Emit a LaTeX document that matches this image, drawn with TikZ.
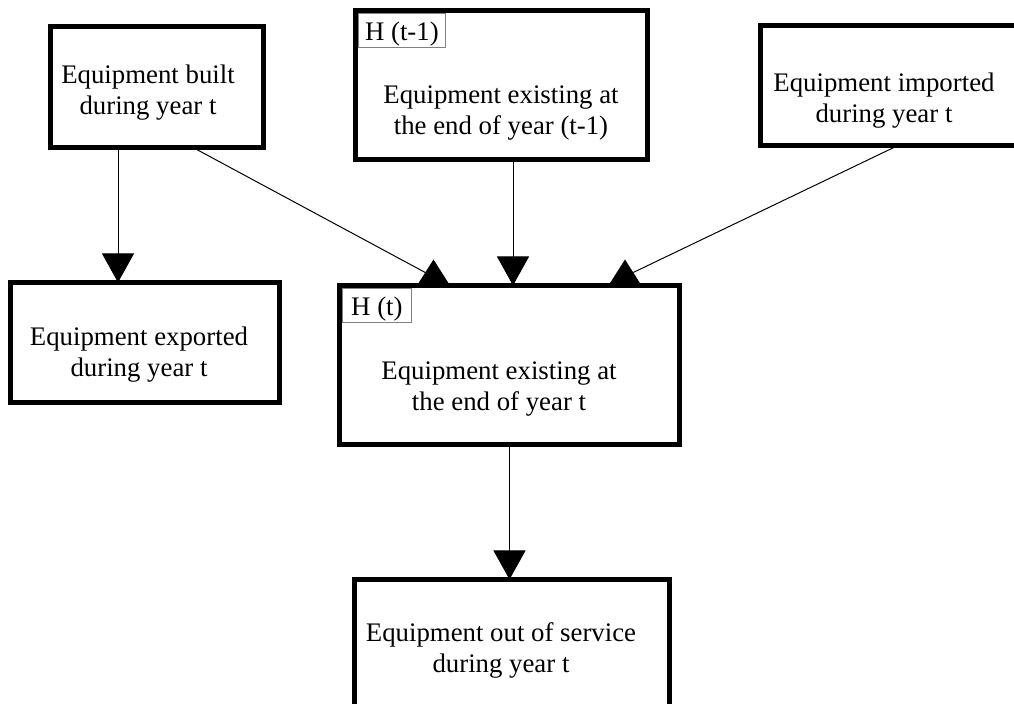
\documentclass[tikz,border=0pt]{standalone}
\usepackage{fontspec}
\setmainfont{Liberation Serif}
\usetikzlibrary{arrows.meta,calc}

\begin{document}
\begin{tikzpicture}[x=0.5pt, y=-0.5pt,
		box/.style={draw, line width=2.4pt, inner sep=0pt, outer sep=0pt},
		txt/.style={align=center, inner sep=0pt, font=\fontsize{13.4}{15.5}\selectfont},
		tag/.style={draw=gray, line width=0.5pt, inner sep=0pt, outer sep=0pt, anchor=north west,
			text height=13.5pt, text depth=3.5pt, font=\fontsize{13.4}{15.5}\selectfont},
		link/.style={line width=0.5pt, -{Triangle[width=16pt,length=14.5pt]}},
		head/.style={fill=black}]
		%%%%% START %%%%%
		\useasboundingbox (0,0) rectangle (1014,704);
		\clip (0,0) rectangle (1014,704);
		
		% boxes
		\node[box, minimum width=106.5pt, minimum height=60.5pt] (built) at (157,87) {};
		\node[box, minimum width=146pt, minimum height=74.5pt] (prev) at (501.5,85) {};
		\node[box, minimum width=128.5pt, minimum height=60pt] (imp) at (889,85.5) {};
		\node[box, minimum width=134.5pt, minimum height=60pt] (exp) at (145,342.5) {};
		\node[box, minimum width=170pt, minimum height=79.5pt] (now) at (509.5,365) {};
		\node[box, minimum width=157.5pt, minimum height=65pt] (out) at (512,644.5) {};
		
		% texts
		\node[txt] (builttxt) at (148,93) {Equipment built\\during year t};
		\node[txt] (prevtxt) at (501,113) {Equipment existing at\\the end of year (t-1)};
		\node[txt] (imptxt) at (884,101) {Equipment imported\\during year t};
		\node[txt] (exptxt) at (139,355) {Equipment exported\\during year t};
		\node[txt] (nowtxt) at (499,389) {Equipment existing at\\the end of year t};
		\node[txt] (outtxt) at (501,650) {Equipment out of service\\during year t};
		
		% tags
		\node[tag, minimum width=43.5pt] (prevtag) at ([shift={(1.45pt,-1.45pt)}]prev.north west) {H (t-1)};
		\node[tag, minimum width=34.5pt] (nowtag) at ([shift={(1.45pt,-1.45pt)}]now.north west) {H (t)};
		
		% straight arrows
		\draw[link] ([xshift=-19.5pt]built.south) -- ([xshift=-13.5pt]exp.north);
		\draw[link] ([xshift=5.75pt]prev.south) -- ([xshift=1.75pt]now.north);
		\draw[link] (now.south) -- (now.south |- out.north);
		
		% slanted arrows
		\coordinate (inL) at ([xshift=-38pt]now.north);
		\coordinate (inR) at ([xshift=57.75pt]now.north);
		\draw[line width=0.5pt] ([xshift=18pt]built.south) -- ($(inL)+(-8.25,-13)$);
		\fill[head] (inL) ++(-16.5,0) -- ++(16.5,-26) -- ++(16.5,26) -- cycle;
		\draw[line width=0.5pt] ([xshift=4.5pt]imp.south) -- ($(inR)+(8.25,-13)$);
		\fill[head] (inR) ++(-16.5,0) -- ++(16.5,-26) -- ++(16.5,26) -- cycle;
		%%%%% END %%%%%
	\end{tikzpicture}
\end{document}
